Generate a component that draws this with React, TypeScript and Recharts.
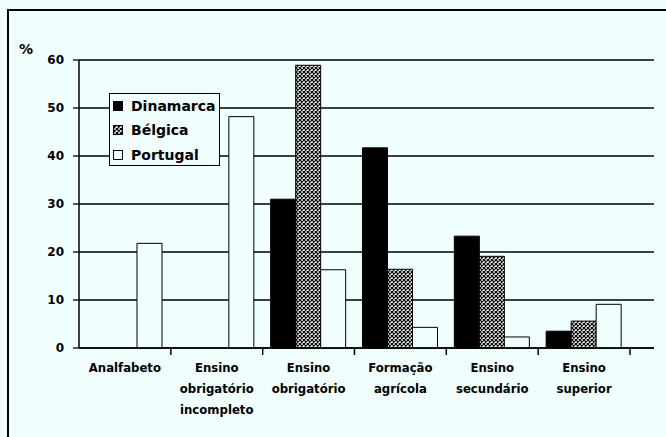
import { BarChart, Bar, XAxis, YAxis, CartesianGrid, Legend } from 'recharts';

const BG = '#f0fefe';

const categories = [
  'Analfabeto',
  'Ensino\nobrigatório\nincompleto',
  'Ensino\nobrigatório',
  'Formação\nagrícola',
  'Ensino\nsecundário',
  'Ensino\nsuperior',
];
const dinamarca = [null, null, 31.0, 41.7, 23.3, 3.5];
const belgica = [null, null, 58.9, 16.4, 19.1, 5.6];
const portugal = [21.8, 48.2, 16.3, 4.3, 2.3, 9.1];
const yTicks = [0, 10, 20, 30, 40, 50, 60];

const series = [
  { key: 'dinamarca', name: 'Dinamarca', fill: '#000' },
  { key: 'belgica', name: 'Bélgica', fill: 'url(#hatch)' },
  { key: 'portugal', name: 'Portugal', fill: BG },
];

const data = categories.map((cat, i) => ({
  cat,
  dinamarca: dinamarca[i],
  belgica: belgica[i],
  portugal: portugal[i],
}));

const boldFont = '"DejaVu Sans", sans-serif';

function CategoryTick(props: any) {
  const { x, y, payload } = props;
  const lines = String(payload.value).split('\n');
  const edge = x + (payload.offset || 0);
  return (
    <g>
      <line x1={edge} y1={y} x2={edge} y2={y + 7} stroke="#000" strokeWidth={1.5} />
      <text
        textAnchor="middle"
        fontFamily='"DejaVu Sans Condensed", "DejaVu Sans", sans-serif'
        fontWeight="bold"
        fontSize={13}
        fill="#000"
      >
        {lines.map((l, i) => (
          <tspan key={i} x={x} y={y + 24 + i * 21}>
            {l}
          </tspan>
        ))}
      </text>
    </g>
  );
}

function Swatch({ kind }: { kind: string }) {
  return (
    <svg width={10} height={10} style={{ display: 'block', flex: 'none' }}>
      <defs>
        <pattern id="hatch-legend" width="4" height="4" patternUnits="userSpaceOnUse">
          <rect width="4" height="4" fill="#fff" />
          <path d="M0,0L4,4M4,0L0,4" stroke="#000" strokeWidth="1.2" />
        </pattern>
      </defs>
      <rect
        x={0.5}
        y={0.5}
        width={9}
        height={9}
        stroke="#000"
        strokeWidth={1}
        fill={kind === 'belgica' ? 'url(#hatch-legend)' : kind === 'dinamarca' ? '#000' : BG}
      />
    </svg>
  );
}

function LegendBox() {
  return (
    <div
      style={{
        border: '1.5px solid #000',
        background: BG,
        width: 111,
        height: 73,
        boxSizing: 'border-box',
        padding: '0 0 0 3px',
      }}
    >
      {series.map((s) => (
        <div
          key={s.key}
          style={{
            display: 'flex',
            alignItems: 'center',
            height: 24.3,
            gap: 8,
            whiteSpace: 'nowrap',
          }}
        >
          <Swatch kind={s.key} />
          <span
            style={{
              fontFamily: boldFont,
              fontWeight: 'bold',
              fontSize: 14,
              color: '#000',
              lineHeight: '16px',
            }}
          >
            {s.name}
          </span>
        </div>
      ))}
    </div>
  );
}

export default function App() {
  return (
    <div
      style={{
        position: 'absolute',
        left: 0,
        top: 0,
        width: 666,
        height: 437,
        overflow: 'hidden',
        background: BG,
      }}
    >
      {/* scanned page frame */}
      <div
        style={{
          position: 'absolute',
          left: 7,
          top: 9,
          width: 700,
          height: 500,
          border: '2px solid #000',
        }}
      />
      <div
        style={{
          position: 'absolute',
          left: 19,
          top: 41,
          fontFamily: boldFont,
          fontWeight: 'bold',
          fontSize: 14,
          color: '#000',
        }}
      >
        %
      </div>
      <div style={{ position: 'absolute', left: 0, top: 0 }}>
        <BarChart
          width={666}
          height={437}
          data={data}
          margin={{ top: 60, right: 12, bottom: 0, left: 39 }}
          barGap={0}
        >
          <defs>
            <pattern id="hatch" width="4" height="4" patternUnits="userSpaceOnUse">
              <rect width="4" height="4" fill="#fff" />
              <path d="M0,0L4,4M4,0L0,4" stroke="#000" strokeWidth="1.2" />
            </pattern>
          </defs>
          <CartesianGrid vertical={false} stroke="#000" strokeWidth={1.3} />
          <XAxis
            dataKey="cat"
            height={89}
            padding={{ left: 0, right: 24 }}
            axisLine={{ stroke: '#000', strokeWidth: 1.5 }}
            tickLine={false}
            tickSize={0}
            tickMargin={0}
            interval={0}
            tick={<CategoryTick />}
          />
          <YAxis
            width={40}
            domain={[0, 60]}
            ticks={yTicks}
            interval={0}
            axisLine={{ stroke: '#000', strokeWidth: 1.5 }}
            tickLine={{ stroke: '#000', strokeWidth: 1.3 }}
            tickSize={6}
            tickMargin={9}
            tick={{ fill: '#000', fontFamily: boldFont, fontWeight: 'bold', fontSize: 12 }}
          />
          <YAxis
            yAxisId="frame"
            orientation="right"
            width={0}
            domain={[0, 60]}
            tick={false}
            tickLine={false}
            axisLine={{ stroke: '#000', strokeWidth: 1.5 }}
          />
          <Legend
            layout="vertical"
            verticalAlign="middle"
            align="center"
            wrapperStyle={{ left: 109, top: 93, width: 'auto' }}
            content={() => <LegendBox />}
          />
          {series.map((s) => (
            <Bar
              key={s.key}
              dataKey={s.key}
              name={s.name}
              fill={s.fill}
              stroke="#000"
              strokeWidth={1}
              barSize={25}
              isAnimationActive={false}
            />
          ))}
        </BarChart>
      </div>
    </div>
  );
}
